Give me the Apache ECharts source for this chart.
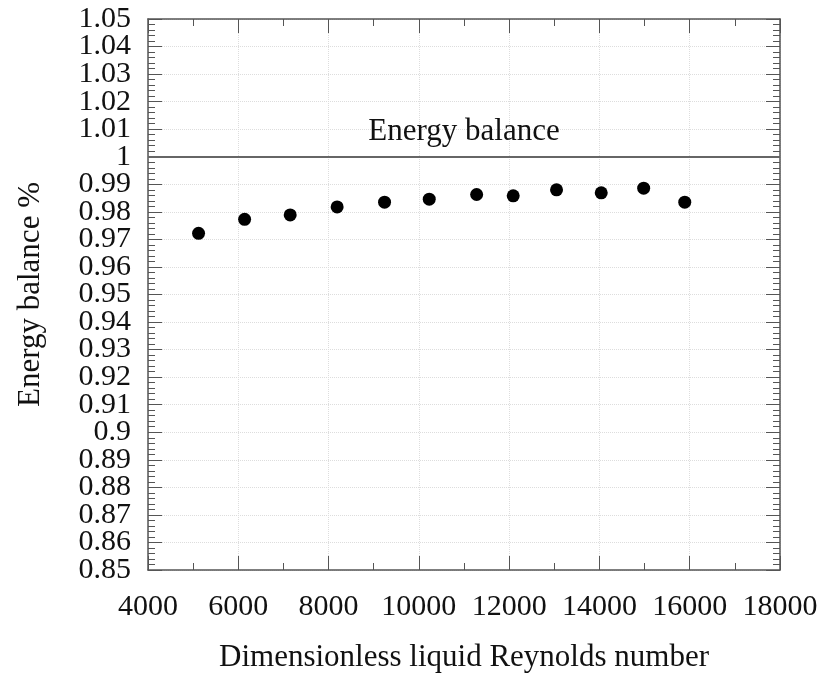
<!DOCTYPE html>
<html>
<head>
<meta charset="utf-8">
<script src="https://cdn.jsdelivr.net/npm/echarts@6/dist/echarts.min.js"></script>
<style>
  html, body { margin: 0; padding: 0; background: #fff; }
  #chart { width: 827px; height: 679px; }
</style>
</head>
<body>
<div id="chart"></div>
<script>
// measured points: Reynolds number vs energy balance
const reynolds = [5120, 6140, 7150, 8190, 9240, 10230, 11280, 12090, 13050, 14040, 14980, 15890];
const balance = [0.9722, 0.9773, 0.9789, 0.9818, 0.9835, 0.9846, 0.9863, 0.9858, 0.9880, 0.9869, 0.9886, 0.9835];
const balanceLine = 1;
const xRange = [4000, 18000];
const yRange = [0.85, 1.05];

const font = "'Liberation Serif', 'Times New Roman', serif";
const axisColor = "#555";
const tickFont = 30;
const titleFont = 31;

const chart = echarts.init(document.getElementById("chart"));

function xAxisCfg(pos, show) {
  return {
    type: "value",
    position: pos,
    min: xRange[0],
    max: xRange[1],
    interval: 2000,
    name: show ? "Dimensionless liquid Reynolds number" : "",
    nameLocation: "middle",
    nameGap: 72,
    nameTextStyle: { fontFamily: font, fontSize: titleFont, color: "#111" },
    axisLine: { show: true, onZero: false, lineStyle: { color: axisColor, width: 1.5 } },
    axisTick: { show: true, inside: true, length: 14, lineStyle: { color: axisColor } },
    minorTick: { show: true, splitNumber: 2, length: 7, lineStyle: { color: axisColor } },
    axisLabel: {
      show: show,
      fontFamily: font,
      fontSize: tickFont,
      color: "#111",
      margin: 22,
      formatter: (v) => String(v),
    },
    splitLine: { show: show, lineStyle: { color: "#ddd", type: "dotted" } },
  };
}

function yAxisCfg(pos, show) {
  return {
    type: "value",
    position: pos,
    min: yRange[0],
    max: yRange[1],
    interval: 0.01,
    name: show ? "Energy balance %" : "",
    nameLocation: "middle",
    nameGap: 102,
    nameTextStyle: { fontFamily: font, fontSize: titleFont, color: "#111" },
    axisLine: { show: true, onZero: false, lineStyle: { color: axisColor, width: 1.5 } },
    axisTick: { show: true, inside: true, length: 14, lineStyle: { color: axisColor } },
    minorTick: { show: true, splitNumber: 5, length: 7, lineStyle: { color: axisColor } },
    axisLabel: {
      show: show,
      fontFamily: font,
      fontSize: tickFont,
      color: "#111",
      margin: 17,
      showMinLabel: false,
      showMaxLabel: false,
    },
    splitLine: { show: show, lineStyle: { color: "#ddd", type: "dotted" } },
  };
}

// the end labels (0.85, 1.05) sit on their own axis so the crowded
// neighbours on the main axis are not dropped as overlapping
const yEnds = {
  type: "value",
  position: "left",
  min: yRange[0],
  max: yRange[1],
  interval: 0.01,
  axisLine: { show: false },
  axisTick: { show: false },
  splitLine: { show: false },
  axisLabel: {
    fontFamily: font,
    fontSize: tickFont,
    color: "#111",
    margin: 17,
    showMinLabel: true,
    showMaxLabel: true,
    formatter: (v) => (v === yRange[0] || v === yRange[1] ? String(v) : ""),
  },
};

chart.setOption({
  animation: false,
  grid: { left: 148, right: 47, top: 19, bottom: 109 },
  xAxis: [xAxisCfg("bottom", true), xAxisCfg("top", false)],
  yAxis: [yAxisCfg("left", true), yAxisCfg("right", false), yEnds],
  series: [
    {
      type: "scatter",
      data: reynolds.map((x, i) => [x, balance[i]]),
      symbolSize: 13,
      itemStyle: { color: "#000", opacity: 1 },
      markLine: {
        silent: true,
        symbol: "none",
        lineStyle: { color: "#666", width: 2, type: "solid" },
        label: {
          show: true,
          position: "middle",
          formatter: "Energy balance",
          fontFamily: font,
          fontSize: titleFont,
          color: "#111",
          distance: 9,
        },
        data: [{ yAxis: balanceLine }],
      },
    },
  ],
});
</script>
</body>
</html>
